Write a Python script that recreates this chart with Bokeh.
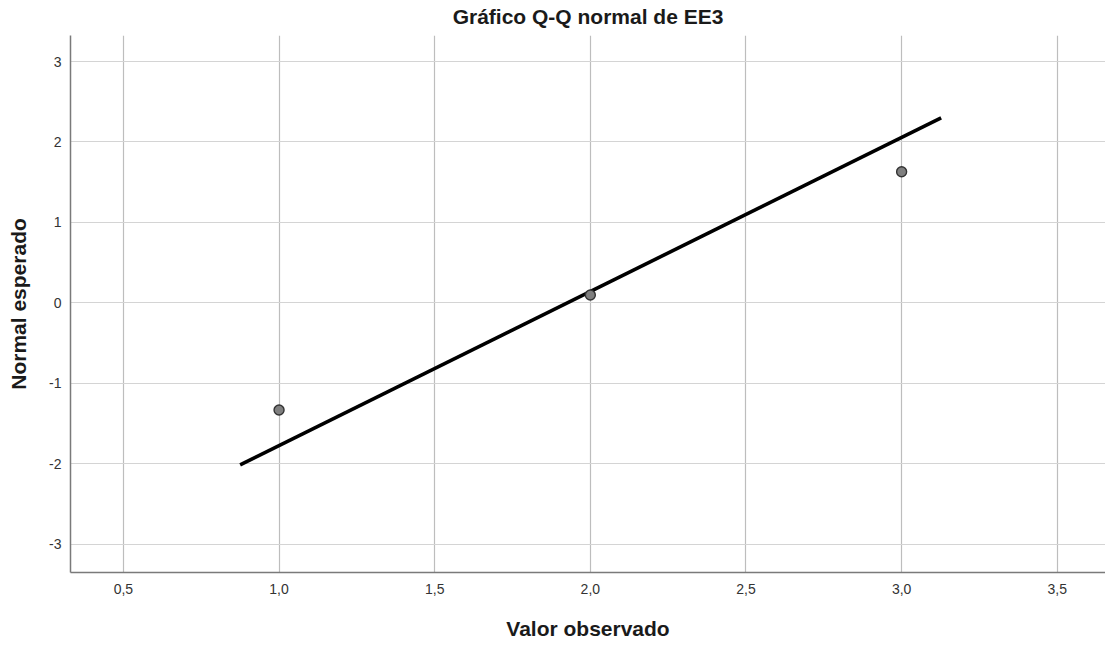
from bokeh.plotting import figure
from bokeh.models import FixedTicker, Range1d, Title
from bokeh.embed import file_html
from bokeh.resources import INLINE

# data
obs_x = [1.0, 2.0, 3.0]
exp_y = [-1.33, 0.10, 1.63]
line_x = [0.875, 3.127]
line_y = [-2.01, 2.30]
x_ticks = [0.5, 1.0, 1.5, 2.0, 2.5, 3.0, 3.5]
x_tick_labels = ["0,5", "1,0", "1,5", "2,0", "2,5", "3,0", "3,5"]
y_ticks = [-3, -2, -1, 0, 1, 2, 3]
y_tick_labels = ["-3", "-2", "-1", "0", "1", "2", "3"]

FONT = "Liberation Sans"

p = figure(frame_width=1035, frame_height=537, output_backend="svg", toolbar_location=None,
           x_range=Range1d(0.330, 3.655), y_range=Range1d(-3.348, 3.323),
           min_border_left=0, min_border_right=0, min_border_top=0, min_border_bottom=0,
           margin=(-5, 0, 0, 4))
p.outline_line_color = None
p.background_fill_color = "white"

t = Title(text="Gráfico Q-Q normal de EE3", align="center", text_font=FONT,
          text_font_size="21px", text_font_style="bold", text_color="#1a1a1a",
          standoff=15, offset=0)
p.add_layout(t, "above")

p.xaxis.ticker = FixedTicker(ticks=x_ticks)
p.yaxis.ticker = FixedTicker(ticks=y_ticks)
p.xaxis.major_label_overrides = {k: v for k, v in zip(x_ticks, x_tick_labels)}
p.yaxis.major_label_overrides = {k: v for k, v in zip(y_ticks, y_tick_labels)}

for ax in (p.xaxis[0], p.yaxis[0]):
    ax.major_tick_line_color = None
    ax.minor_tick_line_color = None
    ax.axis_line_color = "#7a7a7a"
    ax.axis_line_width = 1.5
    ax.major_label_text_font = FONT
    ax.major_label_text_font_size = "14px"
    ax.major_label_text_color = "#333333"
    ax.axis_label_text_font = FONT
    ax.axis_label_text_font_size = "21px"
    ax.axis_label_text_font_style = "bold"
    ax.axis_label_text_color = "#1a1a1a"

p.xaxis.axis_label = "Valor observado"
p.yaxis.axis_label = "Normal esperado"
p.xaxis.major_label_standoff = 5
p.xaxis.axis_label_standoff = 20
p.yaxis.major_label_standoff = 3
p.yaxis.axis_label_standoff = 16

p.xgrid.grid_line_color = "#bdbdbd"
p.ygrid.grid_line_color = "#d4d4d4"
p.xgrid.grid_line_width = 1.2
p.ygrid.grid_line_width = 1.2

p.line(line_x, line_y, line_color="black", line_width=3.6)
p.scatter(obs_x, exp_y, size=10, fill_color="#7f7f7f", line_color="#333333", line_width=1.4)

open("out.html", "w").write(file_html(p, INLINE))
